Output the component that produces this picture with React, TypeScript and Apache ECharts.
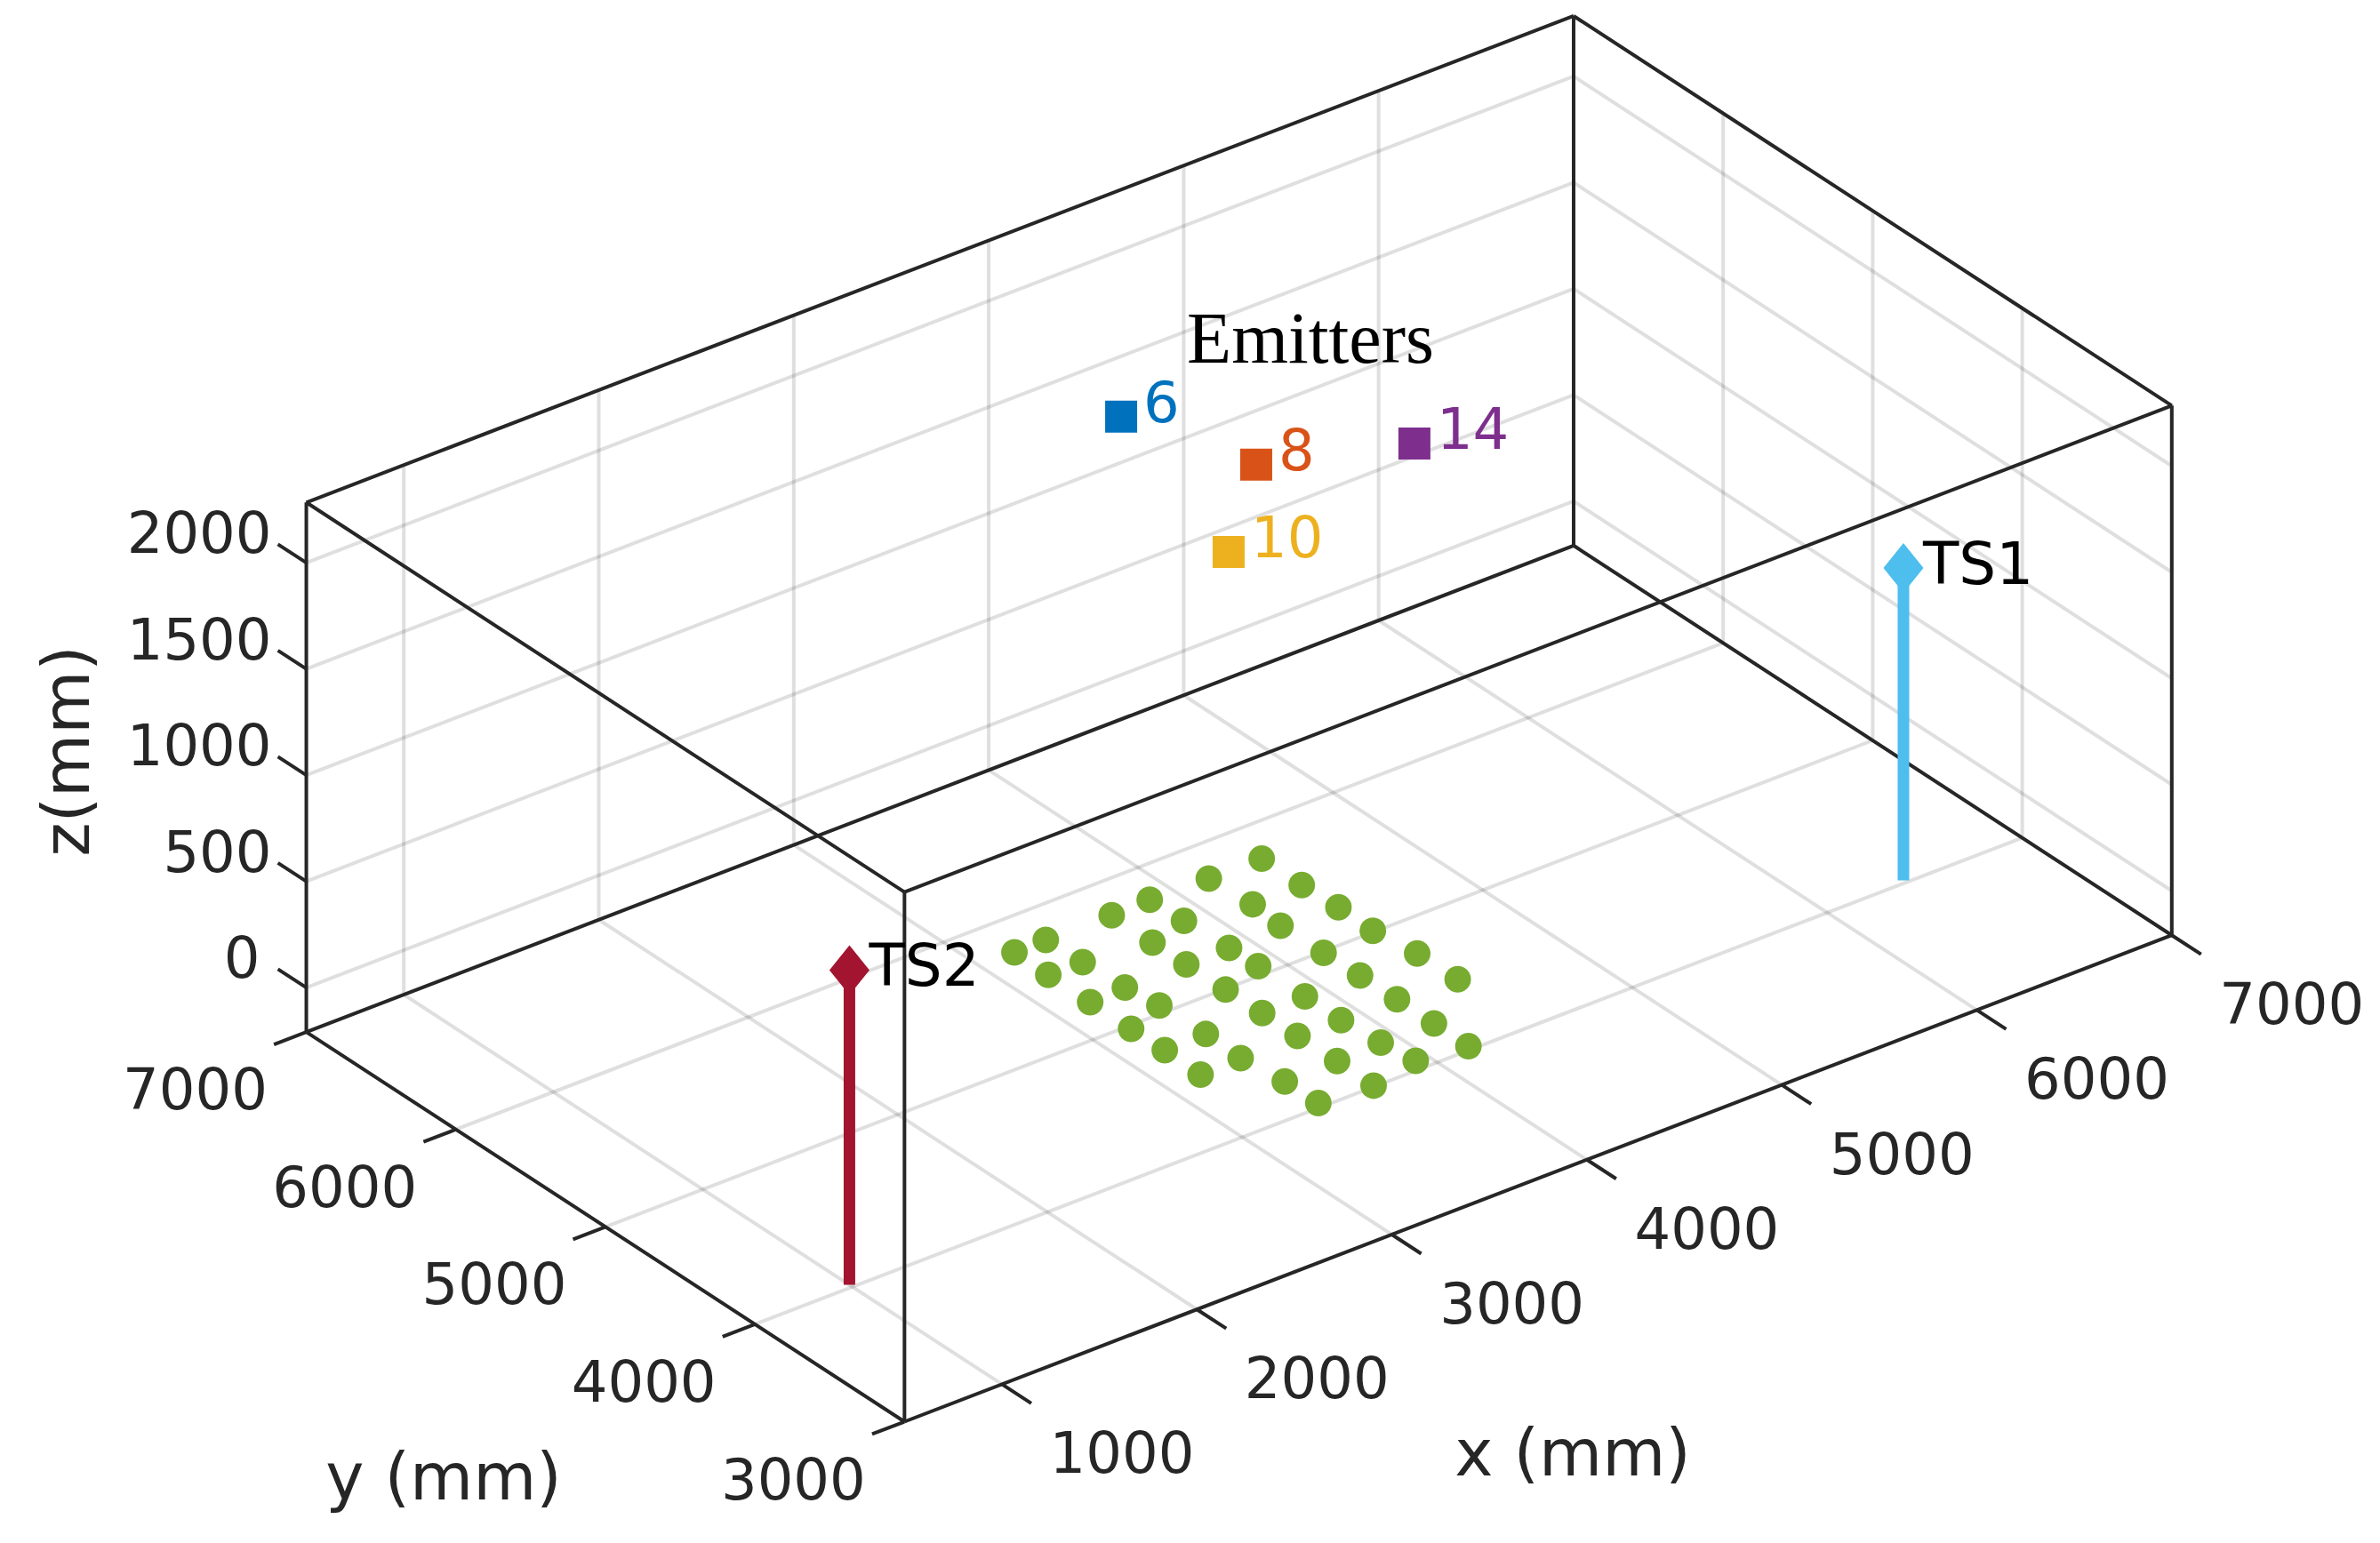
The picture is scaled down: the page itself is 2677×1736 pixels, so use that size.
import React, { useEffect, useRef } from "react";
import * as echarts from "echarts";

const W = 2677;
const H = 1736;

const xTicks = [1000, 2000, 3000, 4000, 5000, 6000, 7000];
const yTicks = [3000, 4000, 5000, 6000, 7000];
const zTicks = [0, 500, 1000, 1500, 2000];
const xRange = [500, 7000];
const yRange = [3000, 7000];
const zRange = [-209, 2284];

// receiver array, mm, all at z = 0
const arrayX = [2960, 3123, 2958, 3132, 2958, 3142, 3458, 3657, 3454, 3663, 3164, 3455, 3675, 3953, 4222, 3967, 4221, 3951, 4229, 4223, 3955, 3961, 4254, 4257, 3962, 3962, 3960, 3718, 3695, 3678, 3679, 3678, 3457, 3459, 3460, 3463, 3459, 3194, 3193, 3166, 3173, 2961, 2958, 2955];
const arrayY = [5472, 5475, 5243, 5240, 4963, 4971, 5471, 5476, 5193, 5255, 4769, 4968, 4969, 5467, 5464, 5192, 5195, 4985, 4960, 4722, 4702, 4466, 4466, 4199, 4220, 3973, 3740, 3777, 3981, 4224, 4467, 4778, 4708, 4466, 4231, 3970, 3721, 3745, 3968, 4228, 4470, 4468, 4689, 4221];

const emitterNames = ["6", "8", "14", "10"];
const emitterX = [3854, 4052, 4667, 3530];
const emitterY = [5924, 5279, 5023, 4783];
const emitterZ = [2000, 2000, 2000, 2000];
const emitterColors = ["#0072BD", "#D95319", "#7E2F8E", "#EDB120"];

const tsNames = ["TS1", "TS2"];
const tsX = [6406, 1000];
const tsY = [4020, 4020];
const tsZ = [1261, 1273];
const tsColors = ["#4DBEEE", "#A2142F"];

// orthographic view of the 3-D box onto the page
const project = (x: number, y: number, z: number): [number, number] => [
  1127 + 0.2193 * (x - 1000) - 0.1682 * (y - 3000),
  1557.4 - 0.0842 * (x - 1000) - 0.1096 * (y - 3000) - 0.239 * (z - zRange[0]),
];

const INK = "#262626";
const FONT = "DejaVu Sans";

const seg = (a: number[], b: number[], color: string, width: number, z = 1) => ({
  type: "line",
  silent: true,
  z,
  clip: false,
  symbol: "none",
  lineStyle: { color, width, cap: "butt", opacity: 1 },
  data: [project(a[0], a[1], a[2]), project(b[0], b[1], b[2])],
});

const grid3 = (a: number[], b: number[]) => seg(a, b, "rgba(38,38,38,0.15)", 4, 1);
const edge = (a: number[], b: number[]) => seg(a, b, INK, 4, 2);

const texts = (items: { at: number[]; text: string; off: number[]; align?: string }[], color: string, size: number) => ({
  type: "scatter",
  silent: true,
  z: 6,
  clip: false,
  symbolSize: 1,
  itemStyle: { color: "transparent", opacity: 1 },
  data: items.map((t) => ({
    value: project(t.at[0], t.at[1], t.at[2]),
    name: t.text,
    label: {
      show: true,
      position: "inside",
      formatter: "{b}",
      align: t.align || "center",
      verticalAlign: "middle",
      offset: t.off,
      color,
      fontFamily: FONT,
      fontSize: size,
    },
  })),
});

function buildSeries() {
  const [x0, x1] = xRange;
  const [y0, y1] = yRange;
  const [z0, z1] = zRange;
  const s: any[] = [];

  // grid on floor and the two rear walls
  xTicks.forEach((x) => {
    s.push(grid3([x, y0, z0], [x, y1, z0]));
    s.push(grid3([x, y1, z0], [x, y1, z1]));
  });
  yTicks.forEach((y) => {
    s.push(grid3([x0, y, z0], [x1, y, z0]));
    s.push(grid3([x1, y, z0], [x1, y, z1]));
  });
  zTicks.forEach((z) => {
    s.push(grid3([x0, y1, z], [x1, y1, z]));
    s.push(grid3([x1, y1, z], [x1, y0, z]));
  });

  // 12 box edges
  [z0, z1].forEach((z) => {
    s.push(edge([x0, y0, z], [x1, y0, z]));
    s.push(edge([x0, y1, z], [x1, y1, z]));
    s.push(edge([x0, y0, z], [x0, y1, z]));
    s.push(edge([x1, y0, z], [x1, y1, z]));
  });
  [[x0, y0], [x1, y0], [x0, y1], [x1, y1]].forEach(([x, y]) => s.push(edge([x, y, z0], [x, y, z1])));

  // ticks
  xTicks.forEach((x) => s.push(edge([x, y0, z0], [x, y0 - 196, z0])));
  yTicks.forEach((y) => s.push(edge([x0, y, z0], [x0 - 166, y, z0])));
  zTicks.forEach((z) => s.push(edge([x0, y1, z], [x0, y1 + 190, z])));

  // tick labels
  s.push(texts(xTicks.map((x) => ({ at: [x, y0, z0], text: String(x), off: [135, 78] })), INK, 64));
  s.push(texts(yTicks.map((y) => ({ at: [x0, y, z0], text: String(y), off: [-125, 65] })), INK, 64));
  s.push(texts(zTicks.map((z) => ({ at: [x0, y1, z], text: String(z), off: [z === 0 ? -52 : -39, -33], align: "right" })), INK, 64));

  // transmitters
  tsNames.forEach((name, i) => {
    s.push(seg([tsX[i], tsY[i], z0], [tsX[i], tsY[i], tsZ[i]], tsColors[i], 13, 3));
    s.push({
      type: "scatter",
      silent: true,
      z: 4,
      symbol: "diamond",
      symbolSize: [45, 56],
      itemStyle: { color: tsColors[i], opacity: 1 },
      data: [project(tsX[i], tsY[i], tsZ[i])],
    });
    s.push(texts([{ at: [tsX[i], tsY[i], tsZ[i]], text: name, off: [22, -5], align: "left" }], "#000000", 66));
  });

  // array
  s.push({
    type: "scatter",
    silent: true,
    z: 4,
    symbol: "circle",
    symbolSize: 30,
    itemStyle: { color: "#77AC30", opacity: 1 },
    data: arrayX.map((x, i) => project(x, arrayY[i], 0)),
  });

  // emitters
  emitterNames.forEach((name, i) => {
    s.push({
      type: "scatter",
      silent: true,
      z: 4,
      symbol: "rect",
      symbolSize: 36,
      itemStyle: { color: emitterColors[i], opacity: 1 },
      data: [project(emitterX[i], emitterY[i], emitterZ[i])],
    });
    s.push(texts([{ at: [emitterX[i], emitterY[i], emitterZ[i]], text: name, off: [25, -16], align: "left" }], emitterColors[i], 64));
  });
  return s;
}

export default function App() {
  const ref = useRef<HTMLDivElement>(null);
  useEffect(() => {
    document.body.style.margin = "0";
    document.body.style.overflow = "hidden";
    const chart = echarts.init(ref.current!, undefined, { renderer: "svg" });
    chart.setOption({
      animation: false,
      backgroundColor: "#ffffff",
      grid: { left: 0, right: 0, top: 0, bottom: 0 },
      xAxis: { type: "value", min: 0, max: W, show: false },
      yAxis: { type: "value", min: 0, max: H, inverse: true, show: false },
      series: buildSeries(),
      graphic: [
        { type: "text", x: 74, y: 845, rotation: Math.PI / 2, z: 10, style: { text: "z(mm)", align: "center", verticalAlign: "middle", font: `73px "${FONT}"`, fill: INK } },
        { type: "text", x: 499, y: 1661, z: 10, style: { text: "y (mm)", align: "center", verticalAlign: "middle", font: `73px "${FONT}"`, fill: INK } },
        { type: "text", x: 1769, y: 1634, z: 10, style: { text: "x (mm)", align: "center", verticalAlign: "middle", font: `73px "${FONT}"`, fill: INK } },
        { type: "text", x: 1474, y: 380, z: 10, style: { text: "Emitters", align: "center", verticalAlign: "middle", font: `82px "Liberation Serif"`, fill: "#000000" } },
      ],
    });
    return () => chart.dispose();
  }, []);
  return <div ref={ref} style={{ position: "absolute", left: 0, top: 0, width: W, height: H }} />;
}
